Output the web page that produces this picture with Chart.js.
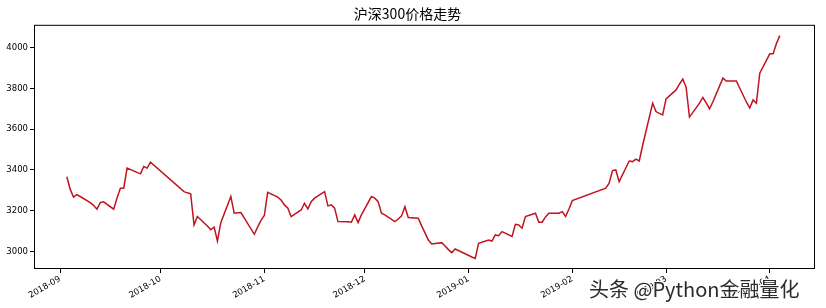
<!DOCTYPE html>
<html>
<head>
<meta charset="utf-8">
<script src="https://cdn.jsdelivr.net/npm/chart.js@4.4.1/dist/chart.umd.min.js"></script>
<style>
	html, body { margin: 0; padding: 0; background: #fff; }
	#wrap { position: relative; width: 826px; height: 308px; }
	#watermark {
		position: absolute; left: 589px; top: 274px;
		font: 20px "Noto Sans CJK SC"; color: #2b2b2b; white-space: nowrap;
		text-shadow: 1px 1px 0 #fff, -1px -1px 0 #fff, 1px -1px 0 #fff, -1px 1px 0 #fff;
	}
</style>
</head>
<body>
<div id="wrap">
	<canvas id="chart_div" width="826" height="308"></canvas>
	<div id="watermark">头条 @Python金融量化</div>
</div>
<script>
// trading days and closing prices
const DATES = [
	'2018-09-03', '2018-09-04', '2018-09-05', '2018-09-06', '2018-09-07', '2018-09-10', '2018-09-11', '2018-09-12', '2018-09-13', '2018-09-14',
	'2018-09-17', '2018-09-18', '2018-09-19', '2018-09-20', '2018-09-21', '2018-09-25', '2018-09-26', '2018-09-27', '2018-09-28',
	'2018-10-08', '2018-10-09', '2018-10-10', '2018-10-11', '2018-10-12', '2018-10-15', '2018-10-16', '2018-10-17', '2018-10-18', '2018-10-19',
	'2018-10-22', '2018-10-23', '2018-10-24', '2018-10-25', '2018-10-26', '2018-10-29', '2018-10-30', '2018-10-31',
	'2018-11-01', '2018-11-02', '2018-11-05', '2018-11-06', '2018-11-07', '2018-11-08', '2018-11-09', '2018-11-12', '2018-11-13', '2018-11-14',
	'2018-11-15', '2018-11-16', '2018-11-19', '2018-11-20', '2018-11-21', '2018-11-22', '2018-11-23', '2018-11-26', '2018-11-27', '2018-11-28',
	'2018-11-29', '2018-11-30',
	'2018-12-03', '2018-12-04', '2018-12-05', '2018-12-06', '2018-12-07', '2018-12-10', '2018-12-11', '2018-12-12', '2018-12-13', '2018-12-14',
	'2018-12-17', '2018-12-18', '2018-12-19', '2018-12-20', '2018-12-21', '2018-12-24', '2018-12-25', '2018-12-26', '2018-12-27', '2018-12-28',
	'2019-01-02', '2019-01-03', '2019-01-04', '2019-01-07', '2019-01-08', '2019-01-09', '2019-01-10', '2019-01-11', '2019-01-14', '2019-01-15',
	'2019-01-16', '2019-01-17', '2019-01-18', '2019-01-21', '2019-01-22', '2019-01-23', '2019-01-24', '2019-01-25', '2019-01-28', '2019-01-29',
	'2019-01-30', '2019-01-31', '2019-02-01',
	'2019-02-11', '2019-02-12', '2019-02-13', '2019-02-14', '2019-02-15', '2019-02-18', '2019-02-19', '2019-02-20', '2019-02-21', '2019-02-22',
	'2019-02-25', '2019-02-26', '2019-02-27', '2019-02-28',
	'2019-03-01', '2019-03-04', '2019-03-05', '2019-03-06', '2019-03-07', '2019-03-08', '2019-03-11', '2019-03-12', '2019-03-13', '2019-03-14',
	'2019-03-15', '2019-03-18', '2019-03-19', '2019-03-20', '2019-03-21', '2019-03-22', '2019-03-25', '2019-03-26', '2019-03-27', '2019-03-28',
	'2019-03-29', '2019-04-01', '2019-04-02', '2019-04-03', '2019-04-04'
];
const CLOSES = [
	3367, 3306, 3267, 3279, 3270, 3240, 3227, 3208, 3240, 3244,
	3208, 3263, 3311, 3311, 3409, 3381, 3417, 3409, 3438,
	3294, 3288, 3283, 3131, 3172, 3126, 3107, 3120, 3052, 3142,
	3270, 3188, 3190, 3191, 3165, 3085, 3120, 3153,
	3177, 3290, 3267, 3253, 3229, 3214, 3172, 3204, 3237, 3209,
	3245, 3262, 3294, 3224, 3229, 3213, 3147, 3146, 3144, 3180,
	3142, 3180,
	3270, 3262, 3245, 3188, 3180, 3147, 3160, 3175, 3220, 3167,
	3164, 3126, 3092, 3057, 3038, 3044, 3028, 3010, 2995, 3013,
	2974, 2967, 3041, 3057, 3052, 3082, 3078, 3098, 3074, 3134,
	3131, 3115, 3172, 3188, 3144, 3144, 3170, 3188, 3188, 3196,
	3172, 3209, 3250,
	3311, 3335, 3397, 3400, 3343, 3444, 3441, 3453, 3444, 3520,
	3727, 3686, 3677, 3670,
	3748, 3792, 3820, 3845, 3806, 3659, 3727, 3755, 3729, 3699,
	3734, 3850, 3836, 3836, 3836, 3836, 3733, 3703, 3743, 3727,
	3874, 3969, 3969, 4020, 4058
];
const MONTH_TICKS = ['2018-09-01', '2018-10-01', '2018-11-01', '2018-12-01', '2019-01-01', '2019-02-01', '2019-03-01', '2019-04-01'];
const MONTH_LABELS = ['2018-09', '2018-10', '2018-11', '2018-12', '2019-01', '2019-02', '2019-03', '2019-04'];
const Y_TICKS = [3000, 3200, 3400, 3600, 3800, 4000];
const LINE_COLOR = '#c0141f';

const BASE_DAY = Date.UTC(2018, 8, 1);

function to_day(date_str) {
	let p = date_str.split('-');
	return (Date.UTC(+p[0], +p[1] - 1, +p[2]) - BASE_DAY) / 86400000;
}

let points = DATES.map((d, i) => ({ x: to_day(d), y: CLOSES[i] }));
let tick_days = MONTH_TICKS.map(to_day);

const box_plugin = {
	id: 'box',
	afterDraw(chart) {
		let a = chart.chartArea;
		let ctx = chart.ctx;
		ctx.save();
		ctx.strokeStyle = '#000';
		ctx.lineWidth = 1;
		ctx.strokeRect(a.left + 0.5, a.top + 0.5, a.right - a.left - 1, a.bottom - a.top - 1);
		ctx.restore();
	}
};

const tick_font = { family: 'DejaVu Sans', size: 8.5 };

let chart = new Chart(document.getElementById('chart_div'), {
	type: 'line',
	data: {
		datasets: [{
			data: points,
			borderColor: LINE_COLOR,
			borderWidth: 1.5,
			pointRadius: 0,
			tension: 0,
			fill: false
		}]
	},
	options: {
		responsive: false,
		animation: false,
		devicePixelRatio: 1,
		layout: { padding: { left: 0, right: 11, top: 0, bottom: 0 } },
		plugins: {
			legend: { display: false },
			tooltip: { enabled: false },
			title: {
				display: true,
				text: '沪深300价格走势',
				color: '#000',
				font: { family: 'Noto Sans CJK SC', size: 14, weight: 'normal' },
				padding: { top: 5, bottom: 3 }
			}
		},
		scales: {
			x: {
				type: 'linear',
				min: -7.8,
				max: 225.5,
				border: { display: false },
				grid: { drawOnChartArea: false, drawTicks: true, tickLength: 4, color: '#000' },
				afterBuildTicks: (axis) => { axis.ticks = tick_days.map(v => ({ value: v })); },
				afterFit: (axis) => { axis.height = 39; },
				ticks: {
					autoSkip: false,
					minRotation: 30,
					maxRotation: 30,
					padding: 1,
					color: '#000',
					font: tick_font,
					callback: (v, i) => MONTH_LABELS[i]
				}
			},
			y: {
				min: 2915,
				max: 4111,
				border: { display: false },
				grid: { drawOnChartArea: false, drawTicks: true, tickLength: 4, color: '#000' },
				afterBuildTicks: (axis) => { axis.ticks = Y_TICKS.map(v => ({ value: v })); },
				afterFit: (axis) => { axis.width = 34; },
				ticks: {
					padding: 2,
					color: '#000',
					font: tick_font,
					callback: (v) => String(v)
				}
			}
		}
	},
	plugins: [box_plugin]
});
</script>
</body>
</html>
